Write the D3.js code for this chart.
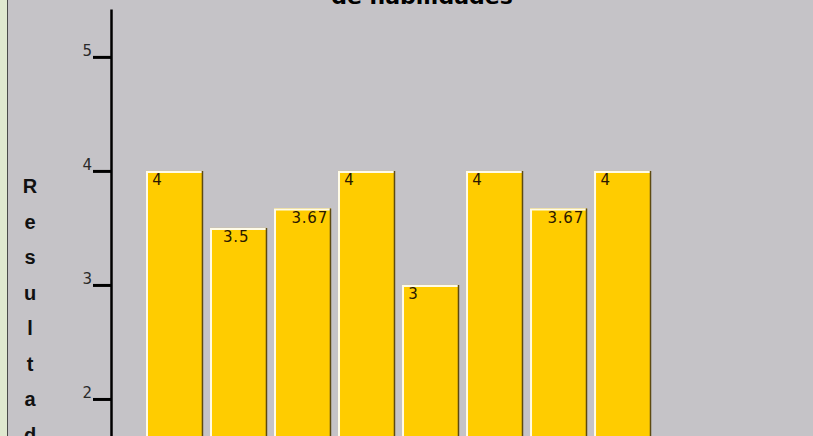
<!DOCTYPE html>
<html>
<head>
<meta charset="utf-8">
<script src="https://cdn.jsdelivr.net/npm/d3@7"></script>
<style>
  body { margin: 0; background: #c5c3c7; }
  svg { display: block; }
</style>
</head>
<body>
<div id="chart"></div>
<script>
// data
const categories = ['H1', 'H2', 'H3', 'H4', 'H5', 'H6', 'H7', 'H8']
const values = [4, 3.5, 3.67, 4, 3, 4, 3.67, 4]
const valueLabels = ['4', '3.5', '3.67', '4', '3', '4', '3.67', '4']
const yTicks = [2, 3, 4, 5]
const titleText = 'de habilidades'
const yTitle = 'Resultad'

const width = 813
const height = 436

const svg = d3.select('#chart')
  .append('svg')
  .attr('width', width)
  .attr('height', height)

// panel background + green frame on the left
svg.append('rect')
  .attr('width', width).attr('height', height)
  .attr('fill', '#c5c3c7')
svg.append('rect')
  .attr('width', 7).attr('height', height)
  .attr('fill', '#dfe8cf')
svg.append('line')
  .attr('x1', 7.5).attr('x2', 7.5)
  .attr('y1', 0).attr('y2', height)
  .attr('stroke', '#4a4a4a')
  .attr('stroke-width', 1)

const x = d3.scaleBand()
  .domain(categories)
  .range([146, 651])
  .paddingInner(0.11)
  .paddingOuter(0)

const y = d3.scaleLinear()
  .domain([0, 5.42])
  .range([627, 9])

// title (only its lower edge shows at the top of the frame)
svg.append('text')
  .attr('x', 422)
  .attr('y', 4)
  .attr('text-anchor', 'middle')
  .style('font-family', '"DejaVu Sans", sans-serif')
  .style('font-weight', 'bold')
  .style('font-size', '22px')
  .attr('fill', '#000')
  .text(titleText)

// vertical y title, one letter per line
svg.append('g')
  .selectAll('text')
  .data(yTitle.split(''))
  .join('text')
  .attr('x', 30)
  .attr('y', (d, i) => 193 + i * 35.5)
  .attr('text-anchor', 'middle')
  .style('font-family', '"Liberation Sans", Arial, sans-serif')
  .style('font-weight', 'bold')
  .style('font-size', '20px')
  .attr('fill', '#111')
  .text(d => d)

// bars
const bars = svg.append('g')
bars.selectAll('rect.bar')
  .data(values)
  .join('rect')
  .attr('class', 'bar')
  .attr('x', (d, i) => x(categories[i]))
  .attr('y', d => y(d))
  .attr('width', x.bandwidth())
  .attr('height', d => y(0) - y(d))
  .attr('fill', '#ffcc00')

// bevel: white top/left, dark right
bars.selectAll('path.hi')
  .data(values)
  .join('path')
  .attr('class', 'hi')
  .attr('d', (d, i) => {
    const x0 = x(categories[i]) + 1
    const y0 = y(d) + 1
    return 'M' + x0 + ',' + y(0) + 'V' + y0 + 'H' + (x0 + x.bandwidth() - 2)
  })
  .attr('fill', 'none')
  .attr('stroke', '#fffbe8')
  .attr('stroke-width', 2)

bars.selectAll('line.sh')
  .data(values)
  .join('line')
  .attr('class', 'sh')
  .attr('x1', (d, i) => x(categories[i]) + x.bandwidth() - 0.5)
  .attr('x2', (d, i) => x(categories[i]) + x.bandwidth() - 0.5)
  .attr('y1', d => y(d))
  .attr('y2', y(0))
  .attr('stroke', '#5e4a10')
  .attr('stroke-width', 1.5)

// value labels inside the bars
bars.selectAll('text.val')
  .data(values)
  .join('text')
  .attr('class', 'val')
  .attr('y', d => y(d) + 14.5)
  .style('font-family', '"DejaVu Sans", sans-serif')
  .style('font-size', '15px')
  .style('letter-spacing', '0.8px')
  .attr('fill', '#2a1800')
  .text((d, i) => valueLabels[i])
  .attr('x', function (d, i) {
    const w = this.getComputedTextLength()
    return x(categories[i]) + 2 + w * 0.42
  })

// y axis
const yAxis = svg.append('g')
  .attr('transform', 'translate(111,0)')
  .call(d3.axisLeft(y).tickValues(yTicks).tickSize(18).tickSizeOuter(0).tickFormat(d3.format('d')))

yAxis.select('.domain')
  .attr('stroke', '#000')
  .attr('stroke-width', 2.5)
yAxis.selectAll('.tick line')
  .attr('stroke', '#000')
  .attr('stroke-width', 3)
yAxis.selectAll('.tick text')
  .attr('x', -19)
  .attr('dy', '0')
  .attr('y', -1)
  .style('font-family', '"DejaVu Sans", sans-serif')
  .style('font-size', '15px')
  .attr('fill', '#2a2a2a')
</script>
</body>
</html>
